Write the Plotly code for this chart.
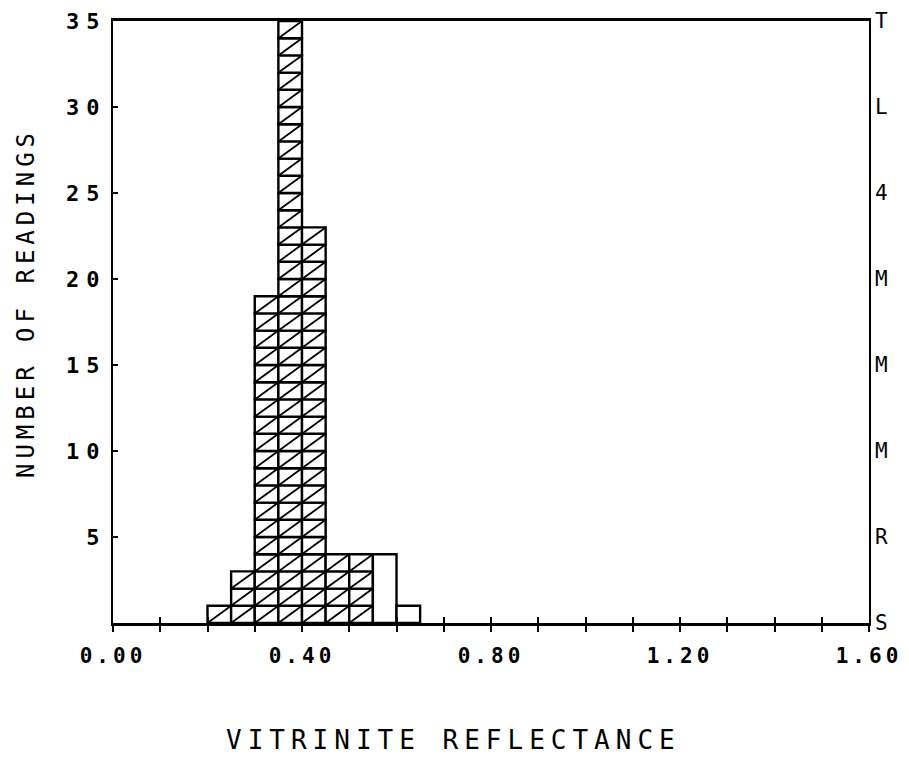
import plotly.graph_objects as go

# histogram bins (left edges) and counts
bin_width = 0.05
hatched_left = [0.20, 0.25, 0.30, 0.35, 0.40, 0.45, 0.50]
hatched_counts = [1, 3, 19, 35, 23, 4, 4]
open_left = [0.55, 0.60]
open_counts = [4, 1]

x_tickvals = [0.0, 0.4, 0.8, 1.2, 1.6]
x_ticktext = ["0.00", "0.40", "0.80", "1.20", "1.60"]
y_tickvals = [5, 10, 15, 20, 25, 30, 35]
right_tickvals = [0, 5, 10, 15, 20, 25, 30, 35]
right_ticktext = ["S", "R", "M", "M", "M", "4", "L", "T"]

x_title = "VITRINITE REFLECTANCE"
y_title = "NUMBER OF READINGS"

MONO = "DejaVu Sans Mono"


def spaced(text, px):
    return f'<span style="letter-spacing:{px}px">{text}</span>'


# one unit cell per reading, each with a "/" stroke
cell_x, cell_base = [], []
diag_x, diag_y = [], []
for left, n in zip(hatched_left, hatched_counts):
    for k in range(n):
        cell_x.append(left + bin_width / 2)
        cell_base.append(k)
        diag_x += [left, left + bin_width, None]
        diag_y += [k, k + 1, None]

fig = go.Figure()

fig.add_trace(
    go.Bar(
        x=cell_x,
        y=[1] * len(cell_x),
        base=cell_base,
        width=bin_width,
        marker=dict(color="white", line=dict(color="black", width=2.4)),
        showlegend=False,
        hoverinfo="skip",
    )
)

fig.add_trace(
    go.Scatter(
        x=diag_x,
        y=diag_y,
        mode="lines",
        line=dict(color="black", width=1.8),
        showlegend=False,
        hoverinfo="skip",
    )
)

fig.add_trace(
    go.Bar(
        x=[v + bin_width / 2 for v in open_left],
        y=open_counts,
        width=bin_width,
        marker=dict(color="white", line=dict(color="black", width=2.4)),
        showlegend=False,
        hoverinfo="skip",
    )
)

# dummy trace so the overlay axes (crossing ticks, right labels) get drawn
fig.add_trace(
    go.Scatter(
        x=[0], y=[0], xaxis="x2", yaxis="y2",
        mode="markers", marker=dict(opacity=0),
        showlegend=False, hoverinfo="skip",
    )
)

# titles sit a little off-centre in the original, so use annotations
fig.add_annotation(
    text=spaced(x_title, 6),
    xref="paper", yref="paper",
    x=0.451, y=-0.195,
    xanchor="center", yanchor="middle",
    showarrow=False,
    font=dict(size=26),
)
fig.add_annotation(
    text=spaced(y_title, 5),
    xref="paper", yref="paper",
    x=-0.116, y=0.532,
    xanchor="center", yanchor="middle",
    textangle=-90,
    showarrow=False,
    font=dict(size=24),
)

# page body has an 8px margin, so the figure is 8px smaller than the window
fig.update_layout(
    width=901,
    height=750,
    margin=dict(l=105, r=40, t=13, b=135),
    paper_bgcolor="white",
    plot_bgcolor="white",
    barmode="overlay",
    font=dict(family=MONO, color="black"),
    xaxis=dict(
        range=[0, 1.6],
        automargin=False,
        tickmode="array",
        tickvals=x_tickvals,
        ticktext=[spaced(t, 4) for t in x_ticktext],
        tickfont=dict(size=21, weight="bold"),
        ticks="outside",
        ticklen=6,
        tickwidth=1.5,
        tickcolor="black",
        ticklabelstandoff=6,
        ticklabeloverflow="allow",
        minor=dict(
            tickmode="linear", tick0=0, dtick=0.1,
            ticks="outside", ticklen=6, tickwidth=1.5, tickcolor="black",
        ),
        showline=True,
        linecolor="black",
        linewidth=2.5,
        mirror=True,
        showgrid=False,
        zeroline=False,
    ),
    xaxis2=dict(
        range=[0, 1.6],
        automargin=False,
        overlaying="x",
        anchor="y",
        side="bottom",
        tickmode="linear",
        tick0=0,
        dtick=0.1,
        ticks="inside",
        ticklen=6,
        tickwidth=1.5,
        tickcolor="black",
        showticklabels=False,
        showline=False,
        showgrid=False,
        zeroline=False,
    ),
    yaxis=dict(
        range=[0, 35],
        automargin=False,
        tickmode="array",
        tickvals=y_tickvals,
        ticktext=[spaced(str(v), 7) for v in y_tickvals],
        tickfont=dict(size=22, weight="bold"),
        ticks="inside",
        ticklen=5,
        tickwidth=1.5,
        tickcolor="black",
        ticklabelstandoff=0,
        ticklabeloverflow="allow",
        showline=True,
        linecolor="black",
        linewidth=2,
        mirror=True,
        showgrid=False,
        zeroline=False,
    ),
    yaxis2=dict(
        range=[0, 35],
        automargin=False,
        overlaying="y",
        anchor="x2",
        side="right",
        tickmode="array",
        tickvals=right_tickvals,
        ticktext=right_ticktext,
        tickfont=dict(size=21),
        ticks="",
        ticklabelstandoff=5,
        ticklabeloverflow="allow",
        showline=False,
        showgrid=False,
        zeroline=False,
    ),
)

fig.write_html("out.html")
